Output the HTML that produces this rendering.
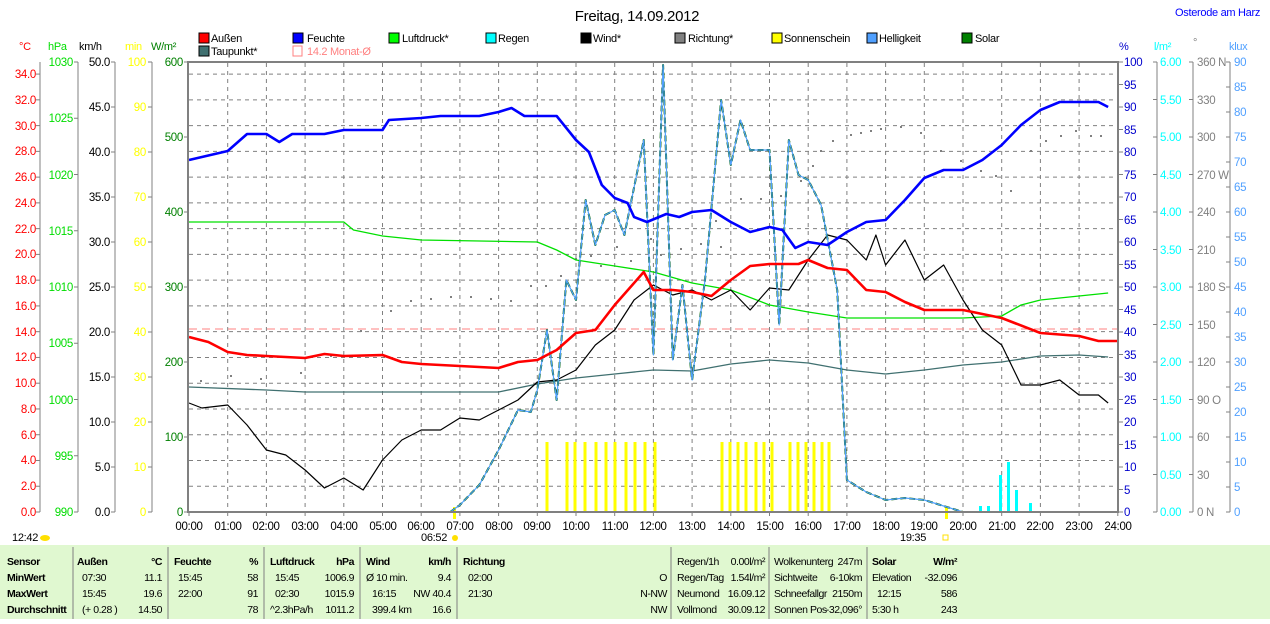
<!DOCTYPE html>
<html><head><meta charset="utf-8"><style>
html,body{margin:0;padding:0;background:#fff;}
body{width:1270px;height:619px;overflow:hidden;font-family:"Liberation Sans",sans-serif;}
svg text{font-family:"Liberation Sans",sans-serif;letter-spacing:-0.3px;}
.tb text{letter-spacing:-0.45px;}
</style></head><body>
<svg width="1270" height="619" xmlns="http://www.w3.org/2000/svg" id="s">
<text x="637" y="21" font-size="15" text-anchor="middle" fill="#000">Freitag, 14.09.2012</text>
<text x="1175" y="16" font-size="11" fill="#0000ff">Osterode am Harz</text>
<g font-size="11" fill="#000">
<rect x="199" y="33" width="10" height="10" fill="#ff0000" stroke="#000"/><text x="211" y="42">Außen</text>
<rect x="293" y="33" width="10" height="10" fill="#0000ff" stroke="#000"/><text x="307" y="42">Feuchte</text>
<rect x="389" y="33" width="10" height="10" fill="#00ff00" stroke="#000"/><text x="402" y="42">Luftdruck*</text>
<rect x="486" y="33" width="10" height="10" fill="#00ffff" stroke="#000"/><text x="498" y="42">Regen</text>
<rect x="581" y="33" width="10" height="10" fill="#000" stroke="#000"/><text x="593" y="42">Wind*</text>
<rect x="675" y="33" width="10" height="10" fill="#808080" stroke="#000"/><text x="688" y="42">Richtung*</text>
<rect x="772" y="33" width="10" height="10" fill="#ffff00" stroke="#000"/><text x="784" y="42">Sonnenschein</text>
<rect x="867" y="33" width="10" height="10" fill="#50a0ff" stroke="#000"/><text x="879" y="42">Helligkeit</text>
<rect x="962" y="33" width="10" height="10" fill="#008000" stroke="#000"/><text x="975" y="42">Solar</text>
<rect x="199" y="46" width="10" height="10" fill="#407070" stroke="#000"/><text x="211" y="55">Taupunkt*</text>
<rect x="293" y="46" width="9" height="10" fill="none" stroke="#ff8080"/><text x="307" y="55" fill="#ff8080">14.2 Monat-Ø</text>
</g>
<g font-size="11">
<text x="19" y="50" fill="#ff0000">°C</text>
<text x="48" y="50" fill="#00dd00">hPa</text>
<text x="79" y="50" fill="#000">km/h</text>
<text x="125" y="50" fill="#ffff00">min</text>
<text x="151" y="50" fill="#008000">W/m²</text>
<text x="1119" y="50" fill="#0000cc">%</text>
<text x="1154" y="50" fill="#00ffff">l/m²</text>
<text x="1193" y="46" fill="#808080">°</text>
<text x="1229" y="50" fill="#50a0ff">klux</text>
</g>
<g id="grid"></g>
<g id="axes" stroke="#808080" stroke-width="1"></g>
<g id="series"></g>
<rect x="188" y="62" width="930" height="450" fill="none" stroke="#808080" stroke-width="2"/>
<text x="12" y="541" font-size="11">12:42</text><ellipse cx="45" cy="538" rx="5" ry="3" fill="#ffe000"/>
<text x="421" y="541" font-size="11">06:52</text><circle cx="455" cy="538" r="3" fill="#ffe000"/>
<text x="900" y="541" font-size="11">19:35</text><rect x="943" y="535" width="5" height="5" fill="none" stroke="#ffe000"/>
<rect x="0" y="545" width="1270" height="74" fill="#e0f8d0"/>
<g stroke="#808080" stroke-width="1">
<line x1="73" y1="547" x2="73" y2="619"/><line x1="168" y1="547" x2="168" y2="619"/>
<line x1="264" y1="547" x2="264" y2="619"/><line x1="360" y1="547" x2="360" y2="619"/>
<line x1="457" y1="547" x2="457" y2="619"/><line x1="671" y1="547" x2="671" y2="619"/>
<line x1="769" y1="547" x2="769" y2="619"/><line x1="867" y1="547" x2="867" y2="619"/>
</g>
<g font-size="10.5" fill="#000" class="tb">
<g font-weight="bold">
<text x="7" y="565">Sensor</text><text x="7" y="581">MinWert</text><text x="7" y="597">MaxWert</text><text x="7" y="613">Durchschnitt</text>
<text x="77" y="565">Außen</text><text x="162" y="565" text-anchor="end">°C</text>
<text x="174" y="565">Feuchte</text><text x="258" y="565" text-anchor="end">%</text>
<text x="270" y="565">Luftdruck</text><text x="354" y="565" text-anchor="end">hPa</text>
<text x="366" y="565">Wind</text><text x="451" y="565" text-anchor="end">km/h</text>
<text x="463" y="565">Richtung</text>
<text x="872" y="565">Solar</text><text x="957" y="565" text-anchor="end">W/m²</text>
</g>
<text x="82" y="581">07:30</text><text x="162" y="581" text-anchor="end">11.1</text>
<text x="82" y="597">15:45</text><text x="162" y="597" text-anchor="end">19.6</text>
<text x="82" y="613">(+ 0.28 )</text><text x="162" y="613" text-anchor="end">14.50</text>
<text x="178" y="581">15:45</text><text x="258" y="581" text-anchor="end">58</text>
<text x="178" y="597">22:00</text><text x="258" y="597" text-anchor="end">91</text>
<text x="258" y="613" text-anchor="end">78</text>
<text x="275" y="581">15:45</text><text x="354" y="581" text-anchor="end">1006.9</text>
<text x="275" y="597">02:30</text><text x="354" y="597" text-anchor="end">1015.9</text>
<text x="270" y="613">^2.3hPa/h</text><text x="354" y="613" text-anchor="end">1011.2</text>
<text x="366" y="581">Ø 10 min.</text><text x="451" y="581" text-anchor="end">9.4</text>
<text x="372" y="597">16:15</text><text x="451" y="597" text-anchor="end">NW 40.4</text>
<text x="372" y="613">399.4 km</text><text x="451" y="613" text-anchor="end">16.6</text>
<text x="468" y="581">02:00</text><text x="667" y="581" text-anchor="end">O</text>
<text x="468" y="597">21:30</text><text x="667" y="597" text-anchor="end">N-NW</text>
<text x="667" y="613" text-anchor="end">NW</text>
<text x="677" y="565">Regen/1h</text><text x="765" y="565" text-anchor="end">0.00l/m²</text>
<text x="677" y="581">Regen/Tag</text><text x="765" y="581" text-anchor="end">1.54l/m²</text>
<text x="677" y="597">Neumond</text><text x="765" y="597" text-anchor="end">16.09.12</text>
<text x="677" y="613">Vollmond</text><text x="765" y="613" text-anchor="end">30.09.12</text>
<text x="774" y="565">Wolkenunterg</text><text x="862" y="565" text-anchor="end">247m</text>
<text x="774" y="581">Sichtweite</text><text x="862" y="581" text-anchor="end">6-10km</text>
<text x="774" y="597">Schneefallgr</text><text x="862" y="597" text-anchor="end">2150m</text>
<text x="774" y="613">Sonnen Pos</text><text x="862" y="613" text-anchor="end">-32,096°</text>
<text x="872" y="581">Elevation</text><text x="957" y="581" text-anchor="end">-32.096</text>
<text x="877" y="597">12:15</text><text x="957" y="597" text-anchor="end">586</text>
<text x="872" y="613">5:30 h</text><text x="957" y="613" text-anchor="end">243</text>
</g>
<g font-size="11.5" text-anchor="end" fill="#ff0000">
<text x="36" y="516">0.0</text><text x="36" y="490">2.0</text><text x="36" y="464">4.0</text><text x="36" y="439">6.0</text><text x="36" y="413">8.0</text><text x="36" y="387">10.0</text><text x="36" y="361">12.0</text><text x="36" y="336">14.0</text><text x="36" y="310">16.0</text><text x="36" y="284">18.0</text><text x="36" y="258">20.0</text><text x="36" y="233">22.0</text><text x="36" y="207">24.0</text><text x="36" y="181">26.0</text><text x="36" y="155">28.0</text><text x="36" y="130">30.0</text><text x="36" y="104">32.0</text><text x="36" y="78">34.0</text>
</g>
<g font-size="11.5" text-anchor="end" fill="#00dd00">
<text x="73" y="516">990</text><text x="73" y="460">995</text><text x="73" y="404">1000</text><text x="73" y="347">1005</text><text x="73" y="291">1010</text><text x="73" y="235">1015</text><text x="73" y="179">1020</text><text x="73" y="122">1025</text><text x="73" y="66">1030</text>
</g>
<g font-size="11.5" text-anchor="end" fill="#000">
<text x="110" y="516">0.0</text><text x="110" y="471">5.0</text><text x="110" y="426">10.0</text><text x="110" y="381">15.0</text><text x="110" y="336">20.0</text><text x="110" y="291">25.0</text><text x="110" y="246">30.0</text><text x="110" y="201">35.0</text><text x="110" y="156">40.0</text><text x="110" y="111">45.0</text><text x="110" y="66">50.0</text>
</g>
<g font-size="11.5" text-anchor="end" fill="#ffff00">
<text x="146" y="516">0</text><text x="146" y="471">10</text><text x="146" y="426">20</text><text x="146" y="381">30</text><text x="146" y="336">40</text><text x="146" y="291">50</text><text x="146" y="246">60</text><text x="146" y="201">70</text><text x="146" y="156">80</text><text x="146" y="111">90</text><text x="146" y="66">100</text>
</g>
<g font-size="11.5" text-anchor="end" fill="#008000">
<text x="183" y="516">0</text><text x="183" y="441">100</text><text x="183" y="366">200</text><text x="183" y="291">300</text><text x="183" y="216">400</text><text x="183" y="141">500</text><text x="183" y="66">600</text>
</g>
<g font-size="11.5" fill="#0000cc">
<text x="1124" y="516">0</text><text x="1124" y="494">5</text><text x="1124" y="471">10</text><text x="1124" y="449">15</text><text x="1124" y="426">20</text><text x="1124" y="404">25</text><text x="1124" y="381">30</text><text x="1124" y="359">35</text><text x="1124" y="336">40</text><text x="1124" y="314">45</text><text x="1124" y="291">50</text><text x="1124" y="269">55</text><text x="1124" y="246">60</text><text x="1124" y="224">65</text><text x="1124" y="201">70</text><text x="1124" y="179">75</text><text x="1124" y="156">80</text><text x="1124" y="134">85</text><text x="1124" y="111">90</text><text x="1124" y="89">95</text><text x="1124" y="66">100</text>
</g>
<g font-size="11.5" fill="#00ffff">
<text x="1160" y="516">0.00</text><text x="1160" y="479">0.50</text><text x="1160" y="441">1.00</text><text x="1160" y="404">1.50</text><text x="1160" y="366">2.00</text><text x="1160" y="329">2.50</text><text x="1160" y="291">3.00</text><text x="1160" y="254">3.50</text><text x="1160" y="216">4.00</text><text x="1160" y="179">4.50</text><text x="1160" y="141">5.00</text><text x="1160" y="104">5.50</text><text x="1160" y="66">6.00</text>
</g>
<g font-size="11.5" fill="#808080">
<text x="1197" y="516">0   N</text><text x="1197" y="479">30</text><text x="1197" y="441">60</text><text x="1197" y="404">90   O</text><text x="1197" y="366">120</text><text x="1197" y="329">150</text><text x="1197" y="291">180 S</text><text x="1197" y="254">210</text><text x="1197" y="216">240</text><text x="1197" y="179">270 W</text><text x="1197" y="141">300</text><text x="1197" y="104">330</text><text x="1197" y="66">360 N</text>
</g>
<g font-size="11.5" fill="#50a0ff">
<text x="1234" y="516">0</text><text x="1234" y="491">5</text><text x="1234" y="466">10</text><text x="1234" y="441">15</text><text x="1234" y="416">20</text><text x="1234" y="391">25</text><text x="1234" y="366">30</text><text x="1234" y="341">35</text><text x="1234" y="316">40</text><text x="1234" y="291">45</text><text x="1234" y="266">50</text><text x="1234" y="241">55</text><text x="1234" y="216">60</text><text x="1234" y="191">65</text><text x="1234" y="166">70</text><text x="1234" y="141">75</text><text x="1234" y="116">80</text><text x="1234" y="91">85</text><text x="1234" y="66">90</text>
</g>
<g font-size="11.5" fill="#000" text-anchor="middle">
<text x="189" y="530">00:00</text><text x="228" y="530">01:00</text><text x="266" y="530">02:00</text><text x="305" y="530">03:00</text><text x="344" y="530">04:00</text><text x="383" y="530">05:00</text><text x="421" y="530">06:00</text><text x="460" y="530">07:00</text><text x="499" y="530">08:00</text><text x="537" y="530">09:00</text><text x="576" y="530">10:00</text><text x="615" y="530">11:00</text><text x="653" y="530">12:00</text><text x="692" y="530">13:00</text><text x="731" y="530">14:00</text><text x="770" y="530">15:00</text><text x="808" y="530">16:00</text><text x="847" y="530">17:00</text><text x="886" y="530">18:00</text><text x="924" y="530">19:00</text><text x="963" y="530">20:00</text><text x="1002" y="530">21:00</text><text x="1040" y="530">22:00</text><text x="1079" y="530">23:00</text><text x="1118" y="530">24:00</text>
</g>
</svg>
<script>
var NS="http://www.w3.org/2000/svg";
function el(p,n,a){var e=document.createElementNS(NS,n);for(var k in a)e.setAttribute(k,a[k]);p.appendChild(e);return e;}
var G=document.getElementById('grid'),A=document.getElementById('axes'),S=document.getElementById('series');
function X(h){return 189+38.7*h;}
for(var h=1;h<24;h++)el(G,'line',{x1:X(h),y1:63,x2:X(h),y2:511,stroke:'#808080','stroke-dasharray':'4,4'});
for(var t=2;t<=34;t+=2){var y=512-12.88*t;el(G,'line',{x1:189,y1:y,x2:1117,y2:y,stroke:'#808080','stroke-dasharray':'4,4'});}
for(var h=0;h<=24;h++)el(G,'line',{x1:X(h),y1:512,x2:X(h),y2:516,stroke:'#808080'});
[[40,62],[78,62],[115,62],[152,62]].forEach(function(a){el(A,'line',{x1:a[0],y1:a[1],x2:a[0],y2:512});});
[1157,1193,1230].forEach(function(x){el(A,'line',{x1:x,y1:62,x2:x,y2:512});});
function tk(x,y0,step,n,left){for(var i=0;i<=n;i++){var y=y0-i*step;el(A,'line',{x1:left?x-4:x,y1:y,x2:left?x:x+4,y2:y});}}
tk(40,512,25.76,17,true);tk(78,512,56.25,8,true);tk(115,512,45,10,true);tk(152,512,45,10,true);tk(188,512,75,6,true);
tk(1119,512,22.5,20,false);tk(1153,512,37.5,12,false);tk(1189,512,37.5,12,false);tk(1226,512,25,18,false);
function tm(s){var p=s.split(':');return +p[0]+p[1]/60;}
function line(d,c,w,extra){var pts=d.trim().split(/\s+/).map(function(q){var a=q.split(',');return X(tm(a[0]))+','+a[1];}).join(' ');var o={points:pts,fill:'none',stroke:c,'stroke-width':w,'stroke-linejoin':'round'};for(var k in extra)o[k]=extra[k];el(S,'polyline',o);}
el(S,'line',{x1:189,y1:329,x2:1117,y2:329,stroke:'#ff8080','stroke-dasharray':'8,5'});
[547,567,575,585,596,606,615,626,635,645,655,722,730,738,746,756,764,772,790,798,806,814,822,829].forEach(function(x){el(S,'rect',{x:x-1.5,y:442,width:3,height:70,fill:'#ffff00'});});
el(S,'rect',{x:453,y:507,width:3,height:12,fill:'#ffff00'});el(S,'rect',{x:945,y:507,width:3,height:12,fill:'#ffff00'});
[[980,506],[988,506],[1000,475],[1008,462],[1016,490],[1030,503]].forEach(function(r){el(S,'rect',{x:r[0]-1,y:r[1],width:3,height:512-r[1],fill:'#00ffff'});});
var dots=[[200,380],[230,375],[260,378],[300,372],[330,355],[360,330],[390,310],[410,300],[430,298],[450,296],[470,296],[490,298],[510,300],[530,285],[545,285],[560,275],[575,258],[590,255],[600,265],[616,246],[630,260],[650,238],[660,254],[680,248],[700,243],[715,220],[720,246],[740,198],[760,198],[780,195],[800,180],[812,165],[820,150],[832,140],[850,134],[860,132],[870,130],[880,128],[900,126],[920,132],[940,150],[960,160],[980,170],[995,175],[1010,190],[1030,150],[1045,140],[1060,135],[1075,130],[1090,135],[1100,135]];
dots.forEach(function(d){el(S,'rect',{x:d[0],y:d[1],width:2,height:2,fill:'#808080'});});
line("0:00,387 2:00,390 3:00,392 8:00,392 9:00,384 10:00,378 11:00,374 12:00,370 13:00,371 14:00,364 15:00,360 16:00,363 17:00,370 18:00,374 19:00,370 20:00,365 21:00,362 22:00,356 23:00,355 23:45,357","#407070",1.3);
line("0:00,222 4:00,222 4:15,230 5:00,236 6:00,240 9:00,242 9:30,250 10:00,260 11:00,266 12:00,272 13:00,283 14:00,290 15:00,305 16:00,312 17:00,318 20:00,318 21:00,316 21:30,305 22:00,300 23:00,296 23:45,293","#00e000",1.3);
line("0:00,403 0:20,408 1:00,405 1:30,425 2:00,450 2:30,455 3:00,470 3:30,488 4:00,478 4:30,490 5:00,460 5:30,440 6:00,430 6:30,430 7:00,418 7:30,420 8:00,410 8:30,400 9:00,382 9:30,380 10:00,370 10:30,345 11:00,330 11:30,300 12:00,285 12:30,295 13:00,290 13:30,300 14:00,290 14:30,310 15:00,288 15:30,290 15:45,275 16:00,260 16:30,235 17:00,240 17:30,260 17:45,235 18:00,265 18:30,240 19:00,280 19:30,265 20:00,300 20:30,330 21:00,345 21:30,385 22:00,385 22:30,380 23:00,395 23:30,395 23:45,403","#000",1.2);
var sol="0:00,512 6:45,512 7:00,505 7:30,485 8:00,450 8:30,410 8:50,412 9:00,390 9:15,330 9:30,400 9:45,280 10:00,300 10:15,200 10:30,245 10:45,215 11:00,210 11:15,235 11:45,140 12:00,355 12:15,65 12:30,360 12:45,285 13:00,380 13:20,280 13:45,100 14:00,165 14:15,120 14:30,150 15:00,150 15:15,325 15:30,140 15:45,175 16:00,180 16:20,205 16:45,290 17:00,480 17:30,492 18:00,500 18:30,498 19:00,500 19:30,506 20:00,512 24:00,512";
line(sol,"#006000",2,{'stroke-dasharray':'6,3'});
line(sol,"#50a0ff",1.2);
line("0:00,337 0:30,342 1:00,352 1:30,355 2:00,356 3:00,358 3:30,354 4:00,356 5:00,355 5:30,362 6:00,364 7:00,366 8:00,368 8:30,362 9:00,360 9:30,350 10:00,333 10:30,330 11:00,305 11:45,272 12:00,290 12:30,290 13:00,292 13:30,296 14:00,280 14:30,266 15:00,264 15:45,264 16:00,260 16:30,268 17:00,270 17:30,290 18:00,292 18:30,302 19:00,310 20:00,310 21:00,318 22:00,333 23:00,336 23:30,341 24:00,341","#ff0000",2.6);
line("0:00,160 1:00,151 1:30,134 2:00,134 2:20,142 2:40,134 3:30,134 4:00,130 5:00,130 5:10,120 6:00,118 6:30,116 7:30,116 8:00,112 8:20,108 8:40,116 9:30,116 10:00,140 10:20,152 10:40,185 11:00,198 11:20,203 11:30,217 11:50,222 12:20,214 12:40,217 13:00,212 13:30,210 14:00,222 14:30,232 15:00,227 15:20,230 15:40,248 16:00,242 16:30,245 17:00,232 17:30,222 18:00,220 18:30,200 19:00,178 19:30,170 20:00,170 20:30,160 21:00,145 21:30,125 22:00,110 22:30,102 23:30,102 23:45,107","#0000ff",2.6);
</script>
</body></html>
